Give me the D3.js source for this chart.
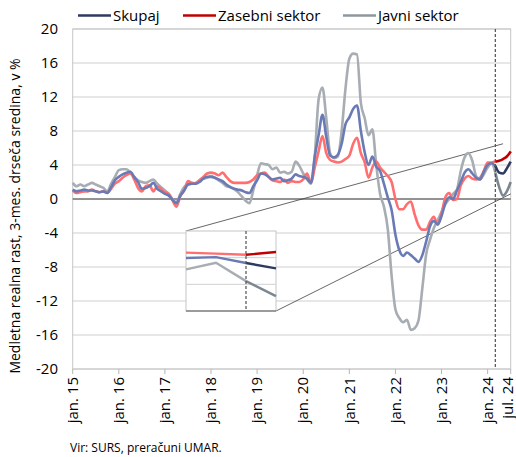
<!DOCTYPE html>
<html lang="sl">
<head>
<meta charset="utf-8">
<title>Medletna realna rast</title>
<script src="https://d3js.org/d3.v7.min.js"></script>
<style>
body { margin:0; background:#fff; }
svg { display:block; font-family:"Open Sans", sans-serif; }
</style>
</head>
<body>
<div id="container"></div>
<script>
var w = 516, h = 457;

// monthly values, jan. 2015 .. jul. 2024 (index = months since jan. 2015)
var skupaj = [1.1,0.9,1.0,1.1,1.0,1.0,0.9,0.8,0.9,0.7,1.4,2.2,2.6,2.9,3.1,3.2,2.6,2.0,1.2,1.3,
  1.5,1.9,1.2,0.9,0.6,0.4,-0.1,-0.5,0.4,1.0,1.7,1.8,1.8,2.0,2.4,2.6,2.6,2.5,2.3,2.1,
  1.7,1.4,1.2,1.1,1.0,0.8,0.7,1.5,2.2,3.0,2.9,2.6,2.3,2.4,2.5,2.1,2.2,2.4,2.9,2.7,
  2.6,2.4,1.9,5.0,7.5,9.9,7.3,5.1,4.9,5.2,6.5,8.8,9.6,10.6,11.0,8.0,5.5,4.0,5.0,3.8,
  3.3,1.8,0.2,-1.3,-4.2,-6.0,-6.7,-6.3,-6.6,-7.0,-7.4,-6.6,-5.0,-3.2,-2.6,-3.0,-2.0,-0.5,0.2,0.0,
  1.0,2.0,3.1,3.5,3.0,2.5,2.3,3.2,4.0,4.2,3.9,3.1,3.0,3.6,4.4];
var zasebni = [1.0,0.7,0.8,0.9,0.9,1.1,0.9,0.8,0.9,0.7,1.2,1.8,2.1,2.5,2.8,3.0,2.3,1.3,0.9,1.5,
  1.6,0.9,1.5,1.2,0.8,0.6,-0.2,-0.9,0.3,1.0,2.1,1.9,1.8,2.2,2.6,3.0,3.1,3.0,2.8,3.1,
  2.6,2.1,1.9,1.9,1.9,1.9,2.0,2.3,2.8,3.0,3.1,2.6,2.2,2.1,2.0,2.3,1.9,2.1,2.0,2.0,
  2.3,3.0,1.9,3.7,5.6,7.4,5.4,4.6,4.4,4.3,4.4,4.7,5.1,6.5,7.2,5.4,4.3,2.5,3.7,4.4,
  3.7,3.2,2.7,2.0,0.0,-1.2,-1.2,-0.6,-0.3,-1.8,-3.1,-3.6,-3.6,-2.7,-2.1,-3.0,-1.7,0.2,0.7,-0.1,
  0.0,1.6,2.4,2.7,2.4,2.3,2.5,3.3,4.3,4.3,4.4,4.5,4.7,5.0,5.6];
var javni = [1.9,1.5,1.7,1.5,1.7,1.9,1.7,1.5,1.3,0.9,1.8,2.6,3.4,3.5,3.5,3.1,2.6,2.2,2.0,1.9,
  2.1,2.3,1.8,1.4,1.0,0.6,0.0,-0.4,0.6,1.4,1.7,1.8,1.9,2.2,2.4,2.5,2.7,2.5,2.2,1.9,
  1.5,1.4,1.2,0.8,0.3,-0.2,-0.5,1.0,2.8,4.2,4.1,4.0,3.5,3.7,3.1,3.2,3.0,3.2,4.4,3.9,
  3.0,2.3,1.8,5.0,11.7,13.1,9.5,5.4,4.8,5.0,8.0,13.0,16.5,17.1,17.0,11.3,9.5,7.5,8.2,4.0,
  0.6,-0.9,-3.5,-9.0,-13.0,-14.0,-14.5,-14.2,-15.4,-15.2,-14.3,-10.5,-6.5,-4.8,-3.4,-2.5,-1.5,-0.6,0.0,0.6,
  1.1,3.3,4.9,5.4,4.5,2.7,2.3,2.9,3.7,4.2,3.1,1.4,0.4,0.9,2.0];

var tickMonths = [0,12,24,36,48,60,72,84,96,108,114];
var tickLabels = ["jan. 15","jan. 16","jan. 17","jan. 18","jan. 19","jan. 20","jan. 21","jan. 22","jan. 23","jan. 24","jul. 24"];
var yTicks = [-20,-16,-12,-8,-4,0,4,8,12,16,20];
var splitMonth = 110; // dashed line, mar. 24

// small inset (detail of the last months)
var insetSkupaj = [0.99,1.02,0.80,0.60];
var insetZasebni = [1.19,1.15,1.11,1.21];
var insetJavni = [0.56,0.81,0.12,-0.44];
var insetTicks = [-1,0,1,2];
var insetSplit = 2;
// points on the main chart the guide lines run to: [month, value]
var guideTop = [112, 6.5];
var guideBottom = [114, 0.6];

var series = [
  {name:"Javni sektor", data:javni, light:"#a7adb3", dark:"#7b8690", legend:"#8d979f", inset:insetJavni},
  {name:"Zasebni sektor", data:zasebni, light:"#ff6f6f", dark:"#c00000", legend:"#c00000", inset:insetZasebni},
  {name:"Skupaj", data:skupaj, light:"#6a7ab5", dark:"#2e3b5e", legend:"#2e3b5e", inset:insetSkupaj}
];

var svg = d3.select("#container").append("svg").attr("width", w).attr("height", h);

var x = d3.scaleLinear().domain([0,114]).range([72.7,510.7]);
var y = d3.scaleLinear().domain([-20,20]).range([369,29]);

// grid
svg.selectAll("line.grid").data(yTicks).enter().append("line")
  .attr("x1", x(0)).attr("x2", x(114))
  .attr("y1", function(d){ return y(d); }).attr("y2", function(d){ return y(d); })
  .attr("stroke", "#cfcfcf").attr("stroke-width", 1);
svg.append("rect").attr("x", x(0)).attr("y", y(20)).attr("width", x(114)-x(0)).attr("height", y(-20)-y(20))
  .attr("fill", "none").attr("stroke", "#c6c6c6");
svg.append("line").attr("x1", x(0)).attr("x2", x(114)).attr("y1", y(0)).attr("y2", y(0))
  .attr("stroke", "#3f3f3f").attr("stroke-width", 1);

// y labels
svg.selectAll("text.yl").data(yTicks).enter().append("text")
  .attr("x", 58).attr("y", function(d){ return y(d); }).attr("dy", "0.35em")
  .attr("text-anchor", "end").attr("font-size", 15).attr("fill", "#000")
  .text(function(d){ return d; });

// x axis ticks and labels
svg.selectAll("line.xt").data(tickMonths).enter().append("line")
  .attr("x1", function(d){ return x(d); }).attr("x2", function(d){ return x(d); })
  .attr("y1", y(-20)).attr("y2", y(-20)+5).attr("stroke", "#b5b5b5");
svg.selectAll("text.xl").data(tickMonths).enter().append("text")
  .attr("transform", function(d, i){
    var px = x(d) - (i == tickMonths.length-1 ? 3 : 0); // keep last label inside
    return "translate(" + px + ",377) rotate(-90)";
  })
  .attr("dy", "0.35em").attr("text-anchor", "end").attr("font-size", 15)
  .text(function(d, i){ return tickLabels[i]; });

svg.append("text")
  .attr("transform", "translate(20,216) rotate(-90)")
  .attr("text-anchor", "middle").attr("font-size", 14)
  .text("Medletna realna rast, 3-mes. drseča sredina, v %");

svg.append("text").attr("x", 70).attr("y", 452).attr("font-size", 12)
  .text("Vir: SURS, preračuni UMAR.");

// guide lines to the inset
var ix = d3.scaleLinear().domain([0,3]).range([186,276]);
var iy = d3.scaleLinear().domain([-1,2]).range([311,231]);
svg.append("line").attr("x1", ix(0)).attr("y1", iy(2)).attr("x2", x(guideTop[0])).attr("y2", y(guideTop[1]))
  .attr("stroke", "#404040").attr("stroke-width", 0.8);
svg.append("line").attr("x1", ix(3)).attr("y1", iy(-1)).attr("x2", x(guideBottom[0])).attr("y2", y(guideBottom[1]))
  .attr("stroke", "#404040").attr("stroke-width", 0.8);

// series
var line = d3.line().x(function(d){ return x(d[0]); }).y(function(d){ return y(d[1]); }).curve(d3.curveMonotoneX);
series.forEach(function(s){
  var pts = s.data.map(function(v, i){ return [i, v]; });
  svg.append("path").attr("d", line(pts.slice(0, splitMonth+1)))
    .attr("fill", "none").attr("stroke", s.light).attr("stroke-width", 2.6);
  svg.append("path").attr("d", line(pts.slice(splitMonth)))
    .attr("fill", "none").attr("stroke", s.dark).attr("stroke-width", 2.6);
});

svg.append("line").attr("x1", x(splitMonth)).attr("x2", x(splitMonth)).attr("y1", y(20)).attr("y2", y(-20))
  .attr("stroke", "#505050").attr("stroke-width", 1.2).attr("stroke-dasharray", "3,2");

// inset
var ins = svg.append("g");
ins.append("rect").attr("x", ix(0)).attr("y", iy(2)).attr("width", ix(3)-ix(0)).attr("height", iy(-1)-iy(2))
  .attr("fill", "#fff").attr("stroke", "#c6c6c6");
ins.selectAll("line.ig").data(insetTicks.slice(1, 3)).enter().append("line")
  .attr("x1", ix(0)).attr("x2", ix(3)).attr("y1", function(d){ return iy(d); }).attr("y2", function(d){ return iy(d); })
  .attr("stroke", "#d0d0d0");
ins.append("line").attr("x1", ix(0)).attr("x2", ix(3)).attr("y1", iy(-1)).attr("y2", iy(-1))
  .attr("stroke", "#555").attr("stroke-width", 1.2);
var iline = d3.line().x(function(d){ return ix(d[0]); }).y(function(d){ return iy(d[1]); });
series.forEach(function(s){
  var pts = s.inset.map(function(v, i){ return [i, v]; });
  ins.append("path").attr("d", iline(pts.slice(0, insetSplit+1)))
    .attr("fill", "none").attr("stroke", s.light).attr("stroke-width", 2.4);
  ins.append("path").attr("d", iline(pts.slice(insetSplit)))
    .attr("fill", "none").attr("stroke", s.dark).attr("stroke-width", 2.4);
});
ins.append("line").attr("x1", ix(insetSplit)).attr("x2", ix(insetSplit)).attr("y1", iy(2)).attr("y2", iy(-1))
  .attr("stroke", "#505050").attr("stroke-width", 1.2).attr("stroke-dasharray", "3,2");

// legend
var legendItems = [
  {s:series[2], x:78}, {s:series[1], x:183}, {s:series[0], x:343}
];
var lg = svg.selectAll("g.lg").data(legendItems).enter().append("g")
  .attr("transform", function(d){ return "translate(" + d.x + ",0)"; });
lg.append("line").attr("x1", 0).attr("x2", 33).attr("y1", 15.5).attr("y2", 15.5)
  .attr("stroke", function(d){ return d.s.legend; }).attr("stroke-width", 2.6);
lg.append("text").attr("x", 35).attr("y", 21).attr("font-size", 15)
  .text(function(d){ return d.s.name; });
</script>
</body>
</html>
